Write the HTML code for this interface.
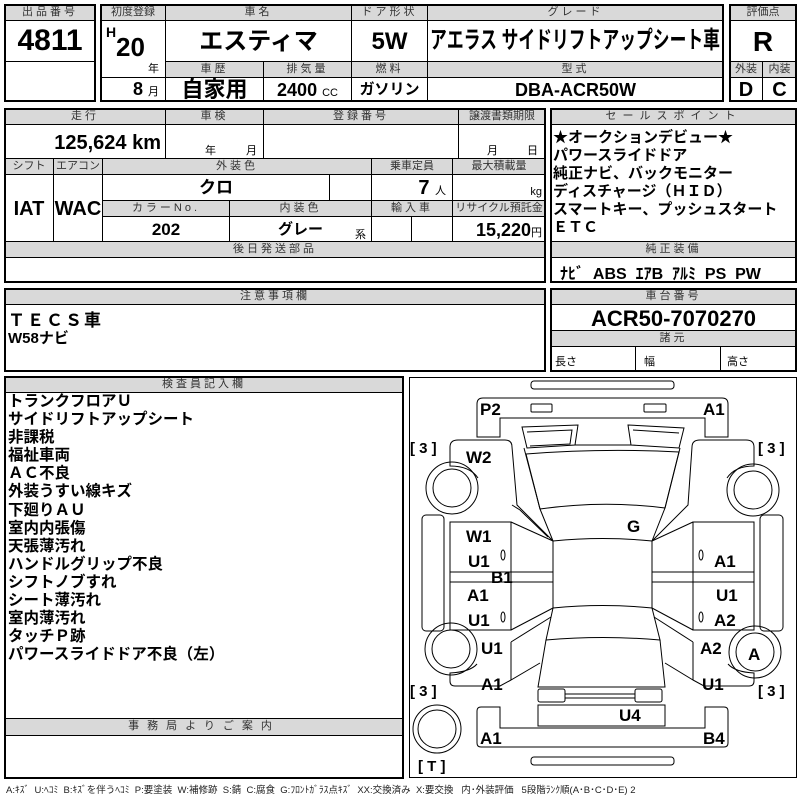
<!DOCTYPE html>
<html><head><meta charset="utf-8">
<style>
body{margin:0;width:800px;height:800px;background:#fff;position:relative;overflow:hidden;font-family:"Liberation Sans","Noto Sans CJK JP",sans-serif;color:#000}
.h,.v,.o{position:absolute;box-sizing:border-box}
.h{background:#d9d9d9;border:1px solid #000;font-size:11px;line-height:14px;text-align:center;color:#333;letter-spacing:3px;white-space:nowrap;overflow:hidden}
.v{border:1px solid #000;font-weight:bold;text-align:center;white-space:nowrap}
.o{border:2px solid #000}
.sm{font-size:11px;font-weight:normal}
.t{position:absolute;white-space:nowrap}
</style></head><body>

<!-- box1 -->
<div class="h" style="left:4px;top:4px;width:92px;height:17px">出品番号</div>
<div class="v" style="left:4px;top:20px;width:92px;height:42px;font-size:30px;line-height:40px">4811</div>
<div class="v" style="left:4px;top:61px;width:92px;height:41px"></div>
<div class="o" style="left:4px;top:4px;width:92px;height:98px"></div>

<!-- box2 -->
<div class="h" style="left:100px;top:4px;width:66px;height:17px;letter-spacing:0">初度登録</div>
<div class="h" style="left:165px;top:4px;width:187px;height:17px">車名</div>
<div class="h" style="left:351px;top:4px;width:77px;height:17px">ドア形状</div>
<div class="h" style="left:427px;top:4px;width:297px;height:17px">グレード</div>
<div class="v" style="left:100px;top:20px;width:66px;height:58px"></div>
<div class="t" style="left:106px;top:24px;font-weight:bold;font-size:14px">H</div>
<div class="t" style="left:116px;top:32px;font-weight:bold;font-size:26px">20</div>
<div class="t" style="left:148px;top:60px;font-size:11px">年</div>
<div class="v" style="left:100px;top:77px;width:66px;height:25px;text-align:right;padding-right:6px;font-size:18px;line-height:23px">8 <span class="sm">月</span></div>
<div class="v" style="left:165px;top:20px;width:187px;height:42px;font-size:24px;line-height:42px">エスティマ</div>
<div class="v" style="left:351px;top:20px;width:77px;height:42px;font-size:24px;line-height:42px">5W</div>
<div class="v" style="left:427px;top:20px;width:297px;height:42px;overflow:hidden"></div>
<div class="t" style="left:575px;top:22px;font-size:24px;font-weight:bold;line-height:38px;transform:translateX(-50%) scaleX(0.7)">アエラス サイドリフトアップシート車</div>
<div class="h" style="left:165px;top:61px;width:99px;height:17px">車歴</div>
<div class="h" style="left:263px;top:61px;width:89px;height:17px">排気量</div>
<div class="h" style="left:351px;top:61px;width:77px;height:17px">燃料</div>
<div class="h" style="left:427px;top:61px;width:297px;height:17px">型式</div>
<div class="v" style="left:165px;top:77px;width:99px;height:25px;font-size:22px;line-height:24px">自家用</div>
<div class="v" style="left:263px;top:77px;width:89px;height:25px;font-size:18px;line-height:24px">2400 <span class="sm">CC</span></div>
<div class="v" style="left:351px;top:77px;width:77px;height:25px;font-size:15px;line-height:24px">ガソリン</div>
<div class="v" style="left:427px;top:77px;width:297px;height:25px;font-size:18px;line-height:24px">DBA-ACR50W</div>
<div class="o" style="left:100px;top:4px;width:624px;height:98px"></div>

<!-- eval -->
<div class="h" style="left:729px;top:4px;width:68px;height:17px;letter-spacing:0">評価点</div>
<div class="v" style="left:729px;top:20px;width:68px;height:42px;font-size:28px;line-height:42px">R</div>
<div class="h" style="left:729px;top:61px;width:34px;height:17px;letter-spacing:0">外装</div>
<div class="h" style="left:762px;top:61px;width:35px;height:17px;letter-spacing:0">内装</div>
<div class="v" style="left:729px;top:77px;width:34px;height:25px;font-size:20px;line-height:24px">D</div>
<div class="v" style="left:762px;top:77px;width:35px;height:25px;font-size:20px;line-height:24px">C</div>
<div class="o" style="left:729px;top:4px;width:68px;height:98px"></div>

<!-- section 2 left -->
<div class="h" style="left:4px;top:108px;width:162px;height:17px">走行</div>
<div class="h" style="left:165px;top:108px;width:99px;height:17px">車検</div>
<div class="h" style="left:263px;top:108px;width:196px;height:17px">登録番号</div>
<div class="h" style="left:458px;top:108px;width:88px;height:17px;letter-spacing:0">譲渡書類期限</div>
<div class="v" style="left:4px;top:124px;width:162px;height:35px;text-align:right;padding-right:4px;font-size:20px;line-height:36px">125,624 km</div>
<div class="v" style="left:165px;top:124px;width:99px;height:35px"></div>
<div class="t" style="left:205px;top:142px;font-size:11px">年</div><div class="t" style="left:246px;top:142px;font-size:11px">月</div>
<div class="v" style="left:263px;top:124px;width:196px;height:35px"></div>
<div class="v" style="left:458px;top:124px;width:88px;height:35px"></div>
<div class="t" style="left:487px;top:142px;font-size:11px">月</div><div class="t" style="left:527px;top:142px;font-size:11px">日</div>
<div class="h" style="left:4px;top:158px;width:50px;height:17px;letter-spacing:0">シフト</div>
<div class="h" style="left:53px;top:158px;width:50px;height:17px;letter-spacing:0">エアコン</div>
<div class="h" style="left:102px;top:158px;width:270px;height:17px">外装色</div>
<div class="h" style="left:371px;top:158px;width:82px;height:17px;letter-spacing:0">乗車定員</div>
<div class="h" style="left:452px;top:158px;width:94px;height:17px;letter-spacing:0">最大積載量</div>
<div class="v" style="left:4px;top:174px;width:50px;height:68px;font-size:20px;line-height:68px">IAT</div>
<div class="v" style="left:53px;top:174px;width:50px;height:68px;font-size:20px;line-height:68px">WAC</div>
<div class="v" style="left:102px;top:174px;width:228px;height:27px;font-size:17px;line-height:26px">クロ</div>
<div class="v" style="left:329px;top:174px;width:43px;height:27px"></div>
<div class="v" style="left:371px;top:174px;width:82px;height:27px;text-align:right;padding-right:6px;font-size:20px;line-height:26px">7 <span class="sm">人</span></div>
<div class="v" style="left:452px;top:174px;width:94px;height:27px;text-align:right;padding-right:3px;line-height:32px"><span class="sm">kg</span></div>
<div class="h" style="left:102px;top:200px;width:128px;height:17px">カラーNo.</div>
<div class="h" style="left:229px;top:200px;width:143px;height:17px">内装色</div>
<div class="h" style="left:371px;top:200px;width:82px;height:17px">輸入車</div>
<div class="h" style="left:452px;top:200px;width:94px;height:17px;letter-spacing:0">リサイクル預託金</div>
<div class="v" style="left:102px;top:216px;width:128px;height:26px;font-size:17px;line-height:26px">202</div>
<div class="v" style="left:229px;top:216px;width:143px;height:26px;font-size:15px;line-height:26px">グレー</div>
<div class="t" style="left:355px;top:226px;font-size:11px">系</div>
<div class="v" style="left:371px;top:216px;width:41px;height:26px"></div>
<div class="v" style="left:411px;top:216px;width:42px;height:26px"></div>
<div class="v" style="left:452px;top:216px;width:94px;height:26px;text-align:right;padding-right:3px;font-size:18px;line-height:26px">15,220<span class="sm">円</span></div>
<div class="h" style="left:4px;top:241px;width:542px;height:17px">後日発送部品</div>
<div class="o" style="left:4px;top:108px;width:542px;height:175px"></div>

<!-- sales -->
<div class="h" style="left:550px;top:108px;width:247px;height:17px;letter-spacing:6px">セールスポイント</div>
<div class="t" style="left:553px;top:129px;font-size:15px;font-weight:bold;line-height:18px">★オークションデビュー★<br>パワースライドドア<br>純正ナビ、バックモニター<br>ディスチャージ（ＨＩＤ）<br>スマートキー、プッシュスタート<br>ＥＴＣ</div>
<div class="h" style="left:550px;top:241px;width:247px;height:17px">純正装備</div>
<div class="t" style="left:560px;top:260px;font-size:16px;font-weight:bold">ﾅﾋﾞ&nbsp; ABS&nbsp; ｴｱB&nbsp; ｱﾙﾐ&nbsp; PS&nbsp; PW</div>
<div class="o" style="left:550px;top:108px;width:247px;height:175px"></div>

<!-- section 3 -->
<div class="h" style="left:4px;top:288px;width:542px;height:17px">注意事項欄</div>
<div class="t" style="left:8px;top:306px;font-size:17px;font-weight:bold;letter-spacing:2px">ＴＥＣＳ車</div>
<div class="t" style="left:8px;top:327px;font-size:15px;font-weight:bold">W58ナビ</div>
<div class="o" style="left:4px;top:288px;width:542px;height:84px"></div>
<div class="h" style="left:550px;top:288px;width:247px;height:17px">車台番号</div>
<div class="v" style="left:550px;top:304px;width:247px;height:27px;font-size:22px;line-height:27px">ACR50-7070270</div>
<div class="h" style="left:550px;top:330px;width:247px;height:17px">諸元</div>
<div class="v" style="left:550px;top:346px;width:86px;height:26px;text-align:left;font-weight:normal;font-size:11px;line-height:30px;padding-left:4px">長さ</div>
<div class="v" style="left:635px;top:346px;width:86px;height:26px;text-align:left;font-weight:normal;font-size:11px;line-height:30px;padding-left:8px">幅</div>
<div class="v" style="left:720px;top:346px;width:77px;height:26px;text-align:left;font-weight:normal;font-size:11px;line-height:30px;padding-left:6px">高さ</div>
<div class="o" style="left:550px;top:288px;width:247px;height:84px"></div>

<!-- section 4 -->
<div class="h" style="left:4px;top:376px;width:400px;height:17px">検査員記入欄</div>
<div class="t" style="left:8px;top:393px;font-size:15.5px;font-weight:bold;line-height:18.1px">トランクフロアＵ<br>サイドリフトアップシート<br>非課税<br>福祉車両<br>ＡＣ不良<br>外装うすい線キズ<br>下廻りＡＵ<br>室内内張傷<br>天張薄汚れ<br>ハンドルグリップ不良<br>シフトノブすれ<br>シート薄汚れ<br>室内薄汚れ<br>タッチＰ跡<br>パワースライドドア不良（左）</div>
<div class="h" style="left:4px;top:718px;width:400px;height:18px;line-height:15px;letter-spacing:8px">事務局よりご案内</div>
<div class="o" style="left:4px;top:376px;width:400px;height:403px"></div>
<div class="t" style="left:6px;top:782px;font-size:9.5px;color:#222">A:ｷｽﾞ&nbsp; U:ﾍｺﾐ&nbsp; B:ｷｽﾞを伴うﾍｺﾐ&nbsp; P:要塗装&nbsp; W:補修跡&nbsp; S:錆&nbsp; C:腐食&nbsp; G:ﾌﾛﾝﾄｶﾞﾗｽ点ｷｽﾞ&nbsp; XX:交換済み&nbsp; X:要交換&nbsp;&nbsp; 内･外装評価&nbsp;&nbsp; 5段階ﾗﾝｸ順(A･B･C･D･E) 2</div>

<!-- diagram -->
<div class="o" style="left:409px;top:377px;width:388px;height:401px;border-width:1.5px"></div>
<svg style="position:absolute;left:0;top:0" width="800" height="800" fill="none" stroke="#000" stroke-width="1">
<rect x="531" y="381" width="143" height="8" rx="3"/>
<rect x="531" y="757" width="143" height="8" rx="3"/>
<path d="M477,437 L477,404 Q477,398 483,398 L722,398 Q728,398 728,404 L728,437 L705,437 L705,418 L500,418 L500,437 Z"/>
<rect x="531" y="404" width="21" height="8" rx="1"/>
<rect x="644" y="404" width="22" height="8" rx="1"/>
<path d="M522,427 L578,425 L575,445 L527,448 Z"/>
<path d="M527,432 L572,430 L570,444 L530,446"/>
<path d="M628,425 L684,428 L679,448 L631,445 Z"/>
<path d="M633,430 L679,433"/>
<path d="M575,445 L631,445"/>
<!-- hood/windshield -->
<path d="M526,454 Q603,448 679,452 L665,508 Q603,500 540,509 Z"/>
<path d="M540,509 L553,541 Q603,536 652,541 L665,508"/>
<!-- cabin -->
<path d="M553,541 L553,608 Q603,603 652,608 L652,541"/>
<path d="M553,608 L546,640 Q603,635 660,640 L652,608"/>
<path d="M546,640 L538,687 L665,687 L660,640"/>
<!-- left body -->
<path d="M450,447 Q450,440 458,440 L505,440 Q512,440 512,447 L517,505 L553,541"/>
<path d="M450,447 L450,466 Q470,466 478,478"/>
<path d="M524,448 L540,509"/>
<path d="M512,505 L520,510 L548,537"/>
<rect x="450" y="522" width="61" height="108"/>
<line x1="450" y1="572" x2="553" y2="572"/><line x1="450" y1="582" x2="553" y2="582"/>
<line x1="511" y1="522" x2="553" y2="541"/>
<line x1="511" y1="630" x2="553" y2="608"/>
<path d="M511,642 L551,617 M511,642 L511,680 L540,663 M511,680 L500,686 L455,686 Q450,686 450,681 L450,673 Q470,672 477,664"/>
<rect x="422" y="515" width="22" height="116" rx="4"/>
<!-- right body -->
<path d="M754,447 Q754,440 746,440 L700,440 Q692,440 692,447 L688,505 L652,541"/>
<path d="M754,447 L754,466 Q735,466 727,478"/>
<path d="M680,448 L665,508"/>
<rect x="693" y="522" width="61" height="108"/>
<line x1="652" y1="572" x2="754" y2="572"/><line x1="652" y1="582" x2="754" y2="582"/>
<line x1="693" y1="522" x2="652" y2="541"/>
<line x1="693" y1="630" x2="652" y2="608"/>
<path d="M693,642 L654,617 M693,642 L693,680 L665,663 M693,680 L704,686 L749,686 Q754,686 754,681 L754,673 Q735,672 728,664"/>
<rect x="760" y="515" width="23" height="116" rx="4"/>
<!-- wheels -->
<circle cx="452" cy="488" r="26"/><circle cx="452" cy="488" r="19"/>
<circle cx="451" cy="649" r="26"/><circle cx="451" cy="649" r="19"/>
<circle cx="753" cy="490" r="26"/><circle cx="753" cy="490" r="19"/>
<circle cx="755" cy="652" r="26"/><circle cx="755" cy="652" r="19"/>
<circle cx="437" cy="729" r="24"/><circle cx="437" cy="729" r="19"/>
<!-- rear -->
<rect x="538" y="689" width="27" height="13" rx="2"/>
<rect x="635" y="689" width="27" height="13" rx="2"/>
<path d="M565,694 L635,694 M565,698 L635,698"/>
<rect x="538" y="705" width="127" height="21"/>
<path d="M477,711 Q477,707 481,707 L500,707 L500,728 L705,728 L705,707 L724,707 Q728,707 728,711 L728,743 Q728,747 724,747 L481,747 Q477,747 477,743 Z"/>
<ellipse cx="503" cy="555" rx="2" ry="5"/><ellipse cx="503" cy="617" rx="2" ry="5"/>
<ellipse cx="701" cy="555" rx="2" ry="5"/><ellipse cx="701" cy="617" rx="2" ry="5"/>
</svg>
<div style="position:absolute;left:0;top:0;font-weight:bold;font-size:17px">
<span class="t" style="left:480px;top:400px">P2</span>
<span class="t" style="left:703px;top:400px">A1</span>
<span class="t" style="left:466px;top:448px">W2</span>
<span class="t" style="left:627px;top:517px">G</span>
<span class="t" style="left:466px;top:527px">W1</span>
<span class="t" style="left:468px;top:552px">U1</span>
<span class="t" style="left:491px;top:568px">B1</span>
<span class="t" style="left:467px;top:586px">A1</span>
<span class="t" style="left:468px;top:611px">U1</span>
<span class="t" style="left:481px;top:639px">U1</span>
<span class="t" style="left:481px;top:675px">A1</span>
<span class="t" style="left:714px;top:552px">A1</span>
<span class="t" style="left:716px;top:586px">U1</span>
<span class="t" style="left:714px;top:611px">A2</span>
<span class="t" style="left:700px;top:639px">A2</span>
<span class="t" style="left:702px;top:675px">U1</span>
<span class="t" style="left:748px;top:645px">A</span>
<span class="t" style="left:619px;top:706px">U4</span>
<span class="t" style="left:480px;top:729px">A1</span>
<span class="t" style="left:703px;top:729px">B4</span>
<span class="t" style="left:418px;top:758px;font-size:15px">[ T ]</span>
<span class="t" style="left:410px;top:440px;font-size:15px">[ 3 ]</span>
<span class="t" style="left:758px;top:440px;font-size:15px">[ 3 ]</span>
<span class="t" style="left:410px;top:683px;font-size:15px">[ 3 ]</span>
<span class="t" style="left:758px;top:683px;font-size:15px">[ 3 ]</span>
</div>
</body></html>
